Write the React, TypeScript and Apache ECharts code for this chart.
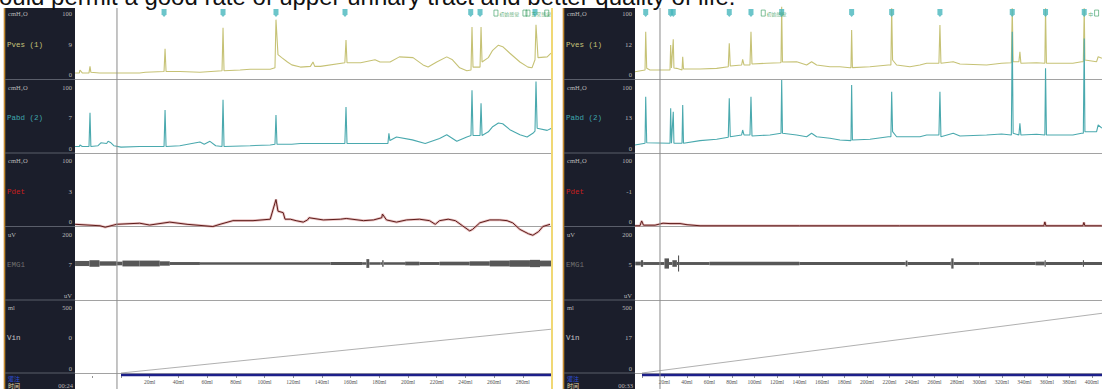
import React, { useEffect, useRef } from 'react';
import * as echarts from 'echarts';

// ---------- DATA (x = infused volume in ml, y = channel value) ----------
const HEADER = 'ould permit a good rate of upper urinary tract and better quality of life.';

const PVES_L = [[-32,9],[-29,9],[-28.6,13],[-27,9],[-22.3,9],[-21.6,18],[-21,10],[-15,9],[0,9],[13,9],[17,10],[30,11],[30.7,42],[31.4,11],[41,11],[55,10],[70.4,12],[71.1,71],[71.8,12],[83,13],[90,14],[104,14],[107.3,16],[108,82],[109.4,34],[112,30],[116,24],[119,20],[125,17],[132,18],[133.8,24],[135,18],[139,18],[156,23],[156.8,54],[157.5,23],[167,23],[177,27],[180.5,24],[187.5,24],[194,31],[203.5,30],[210.5,20],[214,17],[220,24],[227,31],[231,27],[236,16],[241,12],[243.9,13],[244.6,72],[245.3,17],[250.2,17],[250.9,72],[251.6,24],[256,30],[259,40],[263,47],[266,45],[271,36],[278,24],[283.6,17],[286.4,16],[288.5,27],[289.2,75],[290.6,30],[297,31],[299.7,36]];
const PABD_L = [[-32,9],[-29,9],[-28.6,11],[-27,9],[-22.3,9],[-21.6,55],[-21,9],[-16,10],[-14,14],[-10,13],[-9,16],[-7,14],[-5,10],[0,8],[13,9],[30,9],[30.7,59],[31.4,9],[41,10],[55,15],[58,12],[62,16],[66,10],[70.4,9],[71.1,73],[71.8,9],[90,10],[104,11],[107.3,12],[108,52],[108.7,12],[119,12],[125,13],[140,13],[156,13],[156.8,63],[157.5,13],[180,13],[186,13],[186.7,27],[187.4,17],[192,22],[203,18],[212,13],[222,20],[227,25],[234,16],[241,22],[243.9,24],[244.6,86],[245.3,24],[250.2,24],[250.9,68],[251.6,24],[256,29],[259,36],[263,41],[266,40],[271,32],[278,25],[283,22],[287,27],[288.5,30],[289.2,98],[290,34],[297,31],[300,34]];
const PDET_L = [[-32,3],[-14.6,1],[-11,-1],[-3,3],[13,4.5],[20,2],[34,6],[46,3],[64,0],[69,3],[78,8],[92,8],[104,10],[108,37],[109.4,21],[113,19],[114.3,10],[118,10],[122,8],[127,6],[130,9],[131,12],[141,9],[153,10],[157,11],[169,8],[176,9],[181.7,12],[182.2,17],[185,9],[192,6],[199,9],[208,10],[215,8],[219,3],[222,8],[228,10],[233,8],[238,1],[243,-6],[245,-4],[250,5],[257,9],[264,9],[269,8],[273,5],[278,-4],[284,-10],[287,-12],[291,-7],[294,0],[299,3]];
const EMG_L = [[-32,7],[-22,9],[-15,6],[-3,5],[1,8],[13,8],[27,6],[34,4],[55,3.5],[146,4],[168,3.5],[171,12],[173,3.5],[181,3.5],[182,9],[183,3.5],[198,5],[208,4],[222,5],[243,6],[257,8],[271,9],[285,10],[292,8],[300,8]];
const VIN_L = [[0,0],[300,300]];

const PVES_R = [[-6.2,10.7],[2.7,13],[3.3,65.5],[4.2,15.3],[7.1,13],[22.2,13],[24.9,13],[25.5,47.3],[26.2,15.8],[27.8,55],[28.4,15.8],[30.8,15.3],[35.6,13],[36.2,31.2],[36.9,14.4],[51.6,14.4],[66.4,15.3],[76.7,17.5],[77.6,49.6],[78.5,18.5],[88.6,19.9],[89.5,27.7],[90.7,19.9],[96,19.9],[96.9,65.5],[97.8,21.2],[110.8,22.2],[122.7,23],[123.6,23.3],[124.2,99.7],[124.9,24],[137.5,24.4],[146.4,19.9],[150.8,24.4],[155.3,19.9],[167.1,17.5],[176,17.5],[184.9,16.2],[185.8,16.2],[186.4,67.8],[187.1,16.2],[202.7,17.5],[219,19.9],[221.3,19.9],[222,97.5],[222.8,26.7],[226.4,19.9],[238.2,17.5],[247.1,19.9],[253.1,22.2],[264,22.2],[264.9,74.7],[265.8,22.2],[276.7,24.4],[282.7,21.2],[306.4,19.9],[319.7,22.2],[328.4,23],[329.2,97.5],[330,24.4],[335.1,24.4],[336,38.1],[336.9,22.2],[350.8,23],[358.2,22.2],[358.8,97.5],[359.6,22.2],[383.1,22.2],[390.8,24.4],[392.4,24.4],[393.2,97.5],[393.8,26.7],[404.2,24.4],[405.6,31.2],[408.9,29]];
const PABD_R = [[-6.2,11],[2.7,13.3],[3.3,77],[4.2,14.1],[24.9,13.3],[25.5,61.2],[26.2,13.3],[27.8,56.6],[28.4,13.3],[35.6,13.3],[36.2,65.8],[36.9,13.3],[51.6,16.9],[66.4,18.8],[76.7,21.5],[77.6,74.9],[78.5,22.3],[88.6,24.7],[89.5,31.5],[90.7,24.7],[96,24.7],[96.9,77],[97.8,23.3],[113.8,24.7],[123.6,27],[124.2,100],[124.9,27],[137.5,24.7],[146.4,22.3],[150.8,27],[155.3,22.3],[167.1,20.1],[176,17.8],[185.8,16.9],[186.4,93.2],[187.1,17.8],[202.7,18.8],[219,22.3],[221.3,22.3],[222,84],[222.8,29.2],[226.4,22.3],[247.1,22.3],[253.1,24.7],[264,24.7],[264.9,84],[265.8,22.3],[276.7,27],[282.7,23.3],[306.4,24.7],[319.7,26],[328.4,24.7],[329.2,166],[330,27],[335.1,24.7],[336,40.7],[336.9,24.7],[350.8,25.6],[358.2,24.7],[358.8,116],[359.6,24.7],[383.1,24.7],[390.8,27],[392.4,27],[393.2,157],[393.8,29.2],[404.2,29.2],[405.6,38.4],[408.9,34.2]];
const PDET_R = [[-6.2,1],[-1.8,1],[-0.3,7.7],[1.3,1.8],[11.6,1.8],[18.7,4.5],[24.9,4],[33.8,4],[40,2.5],[51.6,1],[140,1],[229,1],[357.3,1],[358.2,6.3],[359.1,1],[392,1],[392.9,5.5],[393.8,1],[408.9,1]];
const EMG_R = [[-6,5],[-1,9],[1,4],[20,14],[24,4],[27,9],[31,4],[32,22],[33,4],[60,4.5],[140,4],[233,4],[234.5,8],[236,4],[274,5],[275,14],[277,4],[300,4],[350,5],[358,9],[359,4],[392,9],[393,4],[409,4]];
const VIN_R = [[0,0],[409,409]];

const MARKERS_L = [30, 71.1, 108, 156.1, 243.7, 250.2, 288.5];
const NOTES_L: [number, string, string][] = [[261.3, '初始感觉', 'right'], [281.5, '', 'right'], [283.6, '正常感觉', 'right'], [296.7, '', 'right']];
const MARKERS_R = [3.3, 25.5, 27.8, 77.6, 96.9, 124.2, 186.4, 222, 264.9, 329.2, 358.8, 393.2];
const NOTES_R: [number, string, string][] = [[107.8, '初始感觉', 'right'], [404.2, '中', 'left']];

const CURSOR_L = -2.8;
const CURSOR_R = 16;

const CHANNELS = [
  { unit: 'cmH₂O', full: '100', name: 'Pves (1)', color: '#c8c47a', bottom: '0' },
  { unit: 'cmH₂O', full: '100', name: 'Pabd (2)', color: '#3fa7ae', bottom: '0' },
  { unit: 'cmH₂O', full: '100', name: 'Pdet', color: '#c81e1e', bottom: '0' },
  { unit: 'uV', full: '200', name: 'EMG1', color: '#707070', bottom: 'uV' },
  { unit: 'ml', full: '500', name: 'Vin', color: '#c4c4c4', bottom: '0' },
];
const VALUES_L = ['9', '7', '3', '7', '0'];
const VALUES_R = ['12', '13', '-1', '5', '17'];
const TIME_L = '00:24';
const TIME_R = '00:33';

// ---------- LAYOUT ----------
const ROWS = [
  { top: 6.5, h: 73, min: 0, max: 100 },
  { top: 80, h: 73, min: 0, max: 100 },
  { top: 153.5, h: 73, min: 0, max: 100 },
  { top: 227, h: 73, min: -100, max: 100 },
  { top: 300, h: 73, min: 0, max: 500 },
];

const PANELS = [
  { zero: 121, ppm: 1.435, min: -40, max: 300, labelMax: 280, sideX: 5, sideW: 70, border: 4.5,
    pves: PVES_L, pabd: PABD_L, pdet: PDET_L, emg: EMG_L, vin: VIN_L, markers: MARKERS_L, notes: NOTES_L,
    cursor: CURSOR_L, values: VALUES_L, time: TIME_L },
  { zero: 642, ppm: 1.125, min: -20, max: 409, labelMax: 400, sideX: 564, sideW: 71, border: 563.5,
    pves: PVES_R, pabd: PABD_R, pdet: PDET_R, emg: EMG_R, vin: VIN_R, markers: MARKERS_R, notes: NOTES_R,
    cursor: CURSOR_R, values: VALUES_R, time: TIME_R },
];

function buildOption() {
  const grid: any[] = [];
  const xAxis: any[] = [];
  const yAxis: any[] = [];
  const series: any[] = [];
  const graphic: any[] = [];

  const hidden = { show: false };

  PANELS.forEach((P) => {
    const left = P.zero + P.min * P.ppm;
    const width = (P.max - P.min) * P.ppm;
    ROWS.forEach((R) => {
      grid.push({ left, width, top: R.top, height: R.h });
      const gi = grid.length - 1;
      xAxis.push({
        gridIndex: gi, type: 'value', min: P.min, max: P.max,
        axisLine: { show: true, onZero: false, lineStyle: { color: '#a2a2a2', width: 1 } },
        axisTick: hidden, axisLabel: hidden, splitLine: hidden,
      });
      yAxis.push({ gridIndex: gi, type: 'value', min: R.min, max: R.max, show: false, splitLine: hidden });
    });
  });
  PANELS.forEach((P) => {
    const left = P.zero + P.min * P.ppm;
    const width = (P.max - P.min) * P.ppm;
    grid.push({ left, width, top: 374, height: 2 });
    const gi = grid.length - 1;
    xAxis.push({
      gridIndex: gi, type: 'value', min: P.min, max: P.max, interval: 20,
      axisLine: { show: false, onZero: false },
      axisTick: { show: true, length: 2, interval: (_: number, v: any) => Number(v) > 0, lineStyle: { color: '#777', width: 0.8 } },
      axisLabel: {
        show: true, fontSize: 5.5, color: '#555', margin: 3, fontFamily: 'Liberation Serif',
        showMaxLabel: false, showMinLabel: false,
        formatter: (v: number) => (v > 0 && v <= P.labelMax ? `${v}ml` : ''),
      },
      splitLine: hidden,
    });
    yAxis.push({ gridIndex: gi, type: 'value', min: 0, max: 1, show: false, splitLine: hidden });
  });
  PANELS.forEach((P) => {
    const left = P.zero + P.min * P.ppm;
    const width = (P.max - P.min) * P.ppm;
    grid.push({ left, width, top: 8, height: 381 });
    const gi = grid.length - 1;
    xAxis.push({ gridIndex: gi, type: 'value', min: P.min, max: P.max, show: false, splitLine: hidden });
    yAxis.push({ gridIndex: gi, type: 'value', min: 0, max: 1, show: false, splitLine: hidden });
  });

  const line = (gi: number, data: any, color: string, width: number, extra: any = {}) => ({
    type: 'line', xAxisIndex: gi, yAxisIndex: gi, data, symbol: 'none', showSymbol: false,
    clip: false, lineStyle: { color, width }, z: 3, ...extra,
  });

  PANELS.forEach((P, pi) => {
    const b = pi * 5;
    series.push(line(b + 0, P.pves, '#c6c275', 1.1));
    series.push(line(b + 1, P.pabd, '#4aa9ae', 1.1));
    series.push(line(b + 2, P.pdet, 'rgba(214,140,140,0.55)', 2.6));
    series.push(line(b + 2, P.pdet, '#5e1c1a', 1));
    const emgData = P.emg.slice(0, -1).map((p, i) => [p[0], P.emg[i + 1][0], p[1]]);
    series.push({
      type: 'custom', xAxisIndex: b + 3, yAxisIndex: b + 3, data: emgData,
      encode: { x: [0, 1], y: 2 },
      renderItem: (_: any, api: any) => {
        const s = api.coord([api.value(0), api.value(2)]);
        const e = api.coord([api.value(1), -api.value(2)]);
        return {
          type: 'rect',
          shape: { x: s[0], y: s[1], width: Math.max(e[0] - s[0], 0.8), height: e[1] - s[1] },
          style: { fill: '#575757' },
        };
      },
      z: 3,
    });
    series.push(line(b + 4, P.vin, '#9c9c9c', 0.8));
    series.push({
      type: 'scatter', xAxisIndex: b, yAxisIndex: b, data: P.markers.map((m) => [m, 91]),
      symbol: 'path://M0 0H10V7L5 11L0 7Z', symbolSize: [5, 8],
      itemStyle: { color: '#47b6bd' }, z: 5,
    });
    series.push({
      type: 'scatter', xAxisIndex: b, yAxisIndex: b,
      data: P.notes.map((n) => ({ value: [n[0], 91], name: n[1], label: { position: n[2] } })),
      symbol: 'rect', symbolSize: [4, 6],
      itemStyle: { color: 'rgba(255,255,255,0)', borderColor: '#3c9e62', borderWidth: 0.8 },
      label: { show: true, distance: 1, fontSize: 5, color: '#3c9e62',
        fontFamily: 'Noto Sans CJK SC', formatter: (p: any) => p.name },
      z: 5,
    });
    series.push(line(10 + pi, [[0, 0.5], [P.max, 0.5]], '#1c1f8a', 2.4));
    series.push(line(12 + pi, [[P.cursor, 0], [P.cursor, 1]], '#8a8a8a', 1, { z: 4 }));

    const sx = P.sideX;
    const sw = P.sideW;
    graphic.push({ type: 'rect', z: 100, shape: { x: sx, y: 8, width: sw, height: 381 }, style: { fill: '#1b1e2b' } });
    graphic.push({ type: 'line', z: 101, shape: { x1: P.border, y1: 8, x2: P.border, y2: 389 }, style: { stroke: '#c4892e', lineWidth: 1.6 } });
    ROWS.forEach((R, ri) => {
      const bot = R.top + R.h;
      graphic.push({ type: 'line', z: 101, shape: { x1: sx, y1: bot, x2: sx + sw, y2: bot }, style: { stroke: '#5a5e6a', lineWidth: 1 } });
      const C = CHANNELS[ri];
      const txt = (x: number, y: number, t: string, fill: string, align: string, size = 6.5, fam = 'Liberation Serif') => ({
        type: 'text', z: 102, x, y,
        style: { text: t, fill, fontSize: size, fontFamily: fam, align, verticalAlign: 'middle' },
      });
      graphic.push(txt(sx + 3, R.top + 7, C.unit, '#b9b9b9', 'left'));
      graphic.push(txt(sx + sw - 3, R.top + 7, C.full, '#b9b9b9', 'right'));
      graphic.push(txt(sx + 2, R.top + 38, C.name, C.color, 'left', 7.5, 'Liberation Mono'));
      graphic.push(txt(sx + sw - 3, R.top + 38, P.values[ri], '#b9b9b9', 'right', 7));
      graphic.push(txt(sx + sw - 3, R.top + 68, C.bottom, '#b9b9b9', 'right'));
    });
    graphic.push({ type: 'text', z: 102, x: sx + 3, y: 378.5,
      style: { text: '灌注', fill: '#2d4fd6', fontSize: 6, fontFamily: 'Noto Sans CJK SC', align: 'left', verticalAlign: 'middle' } });
    graphic.push({ type: 'text', z: 102, x: sx + 3, y: 385.3,
      style: { text: '时间', fill: '#e4dca6', fontSize: 6, fontFamily: 'Noto Sans CJK SC', align: 'left', verticalAlign: 'middle' } });
    graphic.push({ type: 'text', z: 102, x: sx + sw - 2, y: 385.5,
      style: { text: P.time, fill: '#b9b9b9', fontSize: 6.5, fontFamily: 'Liberation Serif', align: 'right', verticalAlign: 'middle' } });
  });

  graphic.push({ type: 'line', z: 101, shape: { x1: 552, y1: 8, x2: 552, y2: 389 }, style: { stroke: '#f0d874', lineWidth: 2 } });
  graphic.push({ type: 'text', z: 110, x: -1, y: -3.5,
    style: { text: HEADER, fill: '#111', fontSize: 24, fontFamily: 'Liberation Sans', align: 'left', verticalAlign: 'middle' } });

  return {
    animation: false,
    backgroundColor: '#ffffff',
    grid, xAxis, yAxis, series, graphic,
  };
}

export default function App() {
  const ref = useRef<HTMLDivElement>(null);
  useEffect(() => {
    const chart = echarts.init(ref.current as HTMLDivElement, null, { renderer: 'svg' });
    chart.setOption(buildOption() as any);
    return () => chart.dispose();
  }, []);
  return <div ref={ref} style={{ position: 'absolute', left: 0, top: 0, width: 1102, height: 389 }} />;
}
